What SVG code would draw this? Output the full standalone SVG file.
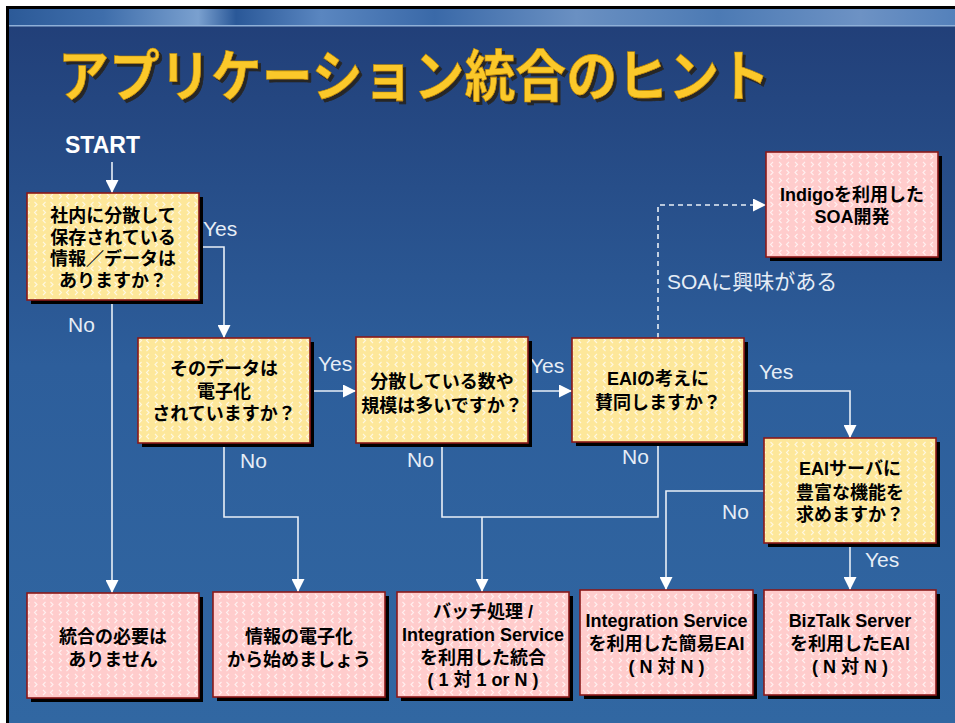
<svg xmlns="http://www.w3.org/2000/svg" width="955" height="723" viewBox="0 0 955 723">
<defs>
<linearGradient id="bg" x1="0" y1="0" x2="0" y2="1">
<stop offset="0" stop-color="#213e77"/>
<stop offset="0.5" stop-color="#2d5e9b"/>
<stop offset="1" stop-color="#3167a2"/>
</linearGradient>
<linearGradient id="banner" x1="0" y1="0" x2="1" y2="0">
<stop offset="0" stop-color="#2c5a98"/>
<stop offset="0.1" stop-color="#3f6eab"/>
<stop offset="0.2" stop-color="#7aa0cf"/>
<stop offset="0.24" stop-color="#2a5898"/>
<stop offset="0.33" stop-color="#5a86c0"/>
<stop offset="0.45" stop-color="#3a69a8"/>
<stop offset="0.6" stop-color="#6a90c2"/>
<stop offset="0.75" stop-color="#4c7ab4"/>
<stop offset="0.9" stop-color="#6d92c4"/>
<stop offset="1" stop-color="#5481bb"/>
</linearGradient>
<pattern id="chev" width="16" height="16" patternUnits="userSpaceOnUse">
<g fill="none" stroke="#ffffff" stroke-width="1.1" stroke-opacity="0.7">
<path d="M5,2 L2.5,4.5 L5,7"/>
<path d="M11,2 L13.5,4.5 L11,7"/>
<path d="M2.5,10 L5,12.5 L2.5,15"/>
<path d="M13.5,10 L11,12.5 L13.5,15"/>
</g>
</pattern>
<filter id="tsh" x="-5%" y="-20%" width="110%" height="140%">
<feOffset in="SourceAlpha" dx="3" dy="3" result="o"/>
<feFlood flood-color="#262626"/>
<feComposite in2="o" operator="in" result="s"/>
<feMerge><feMergeNode in="s"/><feMergeNode in="SourceGraphic"/></feMerge>
</filter>
<marker id="ah" viewBox="0 0 10 10" refX="10" refY="5" markerWidth="13" markerHeight="13" markerUnits="userSpaceOnUse" orient="auto">
<path d="M0,0 L10,5 L0,10 z" fill="#ffffff"/>
</marker>
<style>
.sh{fill:#000}
.y{fill:#fde79a;stroke:#8b1a1a;stroke-width:1.6}
.p{fill:#ffcccc;stroke:#8b1a1a;stroke-width:1.6}
.pat{fill:url(#chev);stroke:none}
.bt{font-family:"Liberation Sans","Noto Sans CJK JP",sans-serif;font-weight:bold;font-size:18px;fill:#000;text-anchor:middle}
.lb{font-family:"Liberation Sans","Noto Sans CJK JP",sans-serif;font-size:21px;fill:#e6edf6}
.cn{fill:none;stroke:#e9eff7;stroke-width:1.6}
.ar{marker-end:url(#ah)}
.ds{stroke-dasharray:5,4}
</style>
</defs>

<rect x="0" y="0" width="955" height="723" fill="#ffffff"/>
<rect x="6" y="6" width="949" height="717" fill="#000"/>
<rect x="9" y="9" width="946" height="714" fill="url(#bg)"/>
<rect x="9" y="9" width="946" height="16" fill="url(#banner)"/>
<rect x="9" y="25" width="946" height="1.5" fill="#8fb0d8"/>

<g id="title">
<text x="58" y="96" font-family="Noto Sans CJK JP, sans-serif" font-weight="bold" font-size="56" textLength="712" lengthAdjust="spacingAndGlyphs" fill="#fbc82a" stroke="#c08a00" stroke-width="0.6" filter="url(#tsh)">アプリケーション統合のヒント</text>
</g>

<g id="start">
<text x="65" y="153" font-family="Liberation Sans, sans-serif" font-weight="bold" font-size="23" fill="#ffffff">START</text>
</g>

<g id="connectors">
<path class="cn ar" d="M112,162 V193"/>
<path class="cn ar" d="M112,300 V593"/>
<path class="cn ar" d="M199,247 H224 V338"/>
<path class="cn ar" d="M310,391 H356"/>
<path class="cn ar" d="M224,443 V517 H298 V592"/>
<path class="cn ar" d="M528,391 H572"/>
<path class="cn" d="M442,443 V517 H658 V442"/>
<path class="cn ar" d="M482,517 V592"/>
<path class="cn ar" d="M744,391 H850 V438"/>
<path class="cn ar" d="M764,491 H666 V590"/>
<path class="cn ar" d="M850,543 V590"/>
<path class="cn ds ar" d="M658,338 V205 H766"/>
</g>

<g id="labels">
<text class="lb" x="203" y="236">Yes</text>
<text class="lb" x="68" y="332">No</text>
<text class="lb" x="318" y="371">Yes</text>
<text class="lb" x="240" y="468">No</text>
<text class="lb" x="530" y="373">Yes</text>
<text class="lb" x="407" y="467">No</text>
<text class="lb" x="622" y="464">No</text>
<text class="lb" x="759" y="379">Yes</text>
<text class="lb" x="722" y="519">No</text>
<text class="lb" x="865" y="567">Yes</text>
<text class="lb" x="667" y="289">SOAに興味がある</text>
</g>

<g id="q1">
<rect class="sh" x="31" y="197" width="172" height="107"/>
<rect class="y" x="27" y="193" width="172" height="107"/>
<rect class="pat" x="28" y="194" width="170" height="105"/>
<text class="bt" x="113" y="222">社内に分散して</text>
<text class="bt" x="113" y="244">保存されている</text>
<text class="bt" x="113" y="265">情報／データは</text>
<text class="bt" x="113" y="287">ありますか？</text>
</g>

<g id="q2">
<rect class="sh" x="142" y="342" width="172" height="105"/>
<rect class="y" x="138" y="338" width="172" height="105"/>
<rect class="pat" x="139" y="339" width="170" height="103"/>
<text class="bt" x="224" y="375">そのデータは</text>
<text class="bt" x="224" y="398">電子化</text>
<text class="bt" x="224" y="420">されていますか？</text>
</g>

<g id="q3">
<rect class="sh" x="360" y="341" width="172" height="106"/>
<rect class="y" x="356" y="337" width="172" height="106"/>
<rect class="pat" x="357" y="338" width="170" height="104"/>
<text class="bt" x="442" y="388">分散している数や</text>
<text class="bt" x="442" y="412">規模は多いですか？</text>
</g>

<g id="q4">
<rect class="sh" x="576" y="342" width="172" height="104"/>
<rect class="y" x="572" y="338" width="172" height="104"/>
<rect class="pat" x="573" y="339" width="170" height="102"/>
<text class="bt" x="658" y="385">EAIの考えに</text>
<text class="bt" x="658" y="409">賛同しますか？</text>
</g>

<g id="q5">
<rect class="sh" x="768" y="442" width="172" height="105"/>
<rect class="y" x="764" y="438" width="172" height="105"/>
<rect class="pat" x="765" y="439" width="170" height="103"/>
<text class="bt" x="850" y="475">EAIサーバに</text>
<text class="bt" x="850" y="499">豊富な機能を</text>
<text class="bt" x="850" y="521">求めますか？</text>
</g>

<g id="indigo">
<rect class="sh" x="770" y="156" width="172" height="105"/>
<rect class="p" x="766" y="152" width="172" height="105"/>
<rect class="pat" x="767" y="153" width="170" height="103"/>
<text class="bt" x="852" y="201">Indigoを利用した</text>
<text class="bt" x="852" y="223">SOA開発</text>
</g>

<g id="r1">
<rect class="sh" x="31" y="597" width="172" height="105"/>
<rect class="p" x="27" y="593" width="172" height="105"/>
<rect class="pat" x="28" y="594" width="170" height="103"/>
<text class="bt" x="113" y="643">統合の必要は</text>
<text class="bt" x="113" y="666">ありません</text>
</g>

<g id="r2">
<rect class="sh" x="217" y="596" width="172" height="105"/>
<rect class="p" x="213" y="592" width="172" height="105"/>
<rect class="pat" x="214" y="593" width="170" height="103"/>
<text class="bt" x="299" y="643">情報の電子化</text>
<text class="bt" x="299" y="666">から始めましょう</text>
</g>

<g id="r3">
<rect class="sh" x="401" y="596" width="172" height="105"/>
<rect class="p" x="397" y="592" width="172" height="105"/>
<rect class="pat" x="398" y="593" width="170" height="103"/>
<text class="bt" x="483" y="618">バッチ処理 /</text>
<text class="bt" x="483" y="641">Integration Service</text>
<text class="bt" x="483" y="664">を利用した統合</text>
<text class="bt" x="483" y="686">( 1 対 1 or N )</text>
</g>

<g id="r4">
<rect class="sh" x="584" y="594" width="173" height="105"/>
<rect class="p" x="580" y="590" width="173" height="105"/>
<rect class="pat" x="581" y="591" width="171" height="103"/>
<text class="bt" x="666.5" y="627">Integration Service</text>
<text class="bt" x="666.5" y="650">を利用した簡易EAI</text>
<text class="bt" x="666.5" y="673">( N 対 N )</text>
</g>

<g id="r5">
<rect class="sh" x="768" y="594" width="172" height="105"/>
<rect class="p" x="764" y="590" width="172" height="105"/>
<rect class="pat" x="765" y="591" width="170" height="103"/>
<text class="bt" x="850" y="627">BizTalk Server</text>
<text class="bt" x="850" y="650">を利用したEAI</text>
<text class="bt" x="850" y="673">( N 対 N )</text>
</g>
</svg>
